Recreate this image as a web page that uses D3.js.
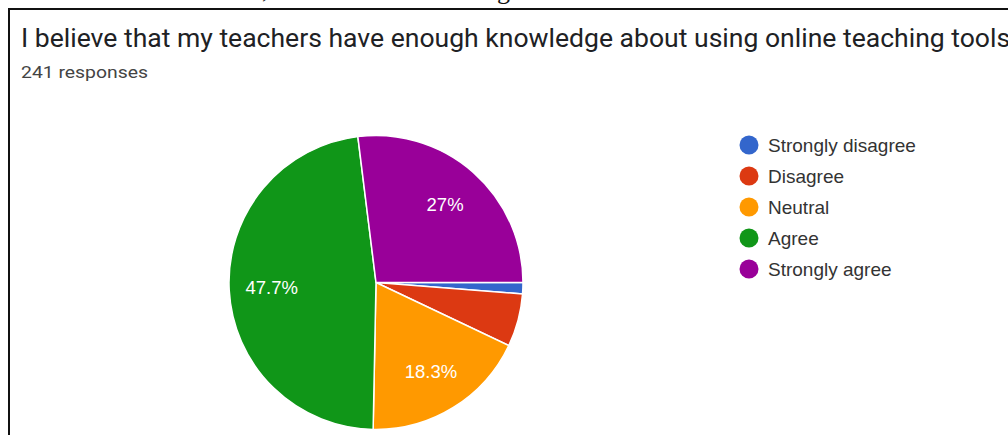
<!DOCTYPE html>
<html>
<head>
<meta charset="utf-8">
<script src="https://cdn.jsdelivr.net/npm/d3@7"></script>
<style>
  html, body { margin: 0; padding: 0; background: #fff; }
  svg { display: block; }
</style>
</head>
<body>
<svg id="chart" width="1008" height="435"></svg>
<script>
// Survey answers (241 responses)
const categories = ["Strongly disagree", "Disagree", "Neutral", "Agree", "Strongly agree"];
const counts = [3, 14, 44, 115, 65];
const colors = ["#3366cc", "#dc3912", "#ff9900", "#109618", "#990099"];
const title = "I believe that my teachers have enough knowledge about using online teaching tools";
const subtitle = "241 responses";

const svg = d3.select("#chart");
const W = 1008, H = 435;
const total = d3.sum(counts);
const sans = "Roboto, 'Noto Sans', sans-serif";
const arial = "'Liberation Sans', Arial, sans-serif";

// fragments of the preceding document line, cut off by the frame
svg.append("text").attr("x", 262).attr("y", -2)
  .attr("font-family", "Liberation Serif, Times New Roman, serif")
  .attr("font-size", 26).attr("fill", "#111").text(",");
svg.append("text").attr("x", 497).attr("y", -1)
  .attr("font-family", "Liberation Serif, Times New Roman, serif")
  .attr("font-size", 26).attr("fill", "#111").text("g");

// card frame
svg.append("line").attr("x1", 8).attr("x2", W).attr("y1", 9).attr("y2", 9)
  .attr("stroke", "#111").attr("stroke-width", 2);
svg.append("line").attr("x1", 9).attr("x2", 9).attr("y1", 8).attr("y2", H)
  .attr("stroke", "#111").attr("stroke-width", 2);

// title, sized to run across the card
const t = svg.append("text").attr("x", 21).attr("y", 47)
  .attr("font-family", sans)
  .attr("font-size", 26).attr("fill", "#202124").text(title);
const tw = t.node().getComputedTextLength();
t.attr("font-size", 26 * 990 / tw);

svg.append("text").attr("x", 21).attr("y", 78)
  .attr("font-family", sans)
  .attr("font-size", 17).attr("fill", "#444")
  .attr("textLength", 127).attr("lengthAdjust", "spacingAndGlyphs")
  .text(subtitle);

// pie
const cx = 376, cy = 282.5, R = 147;
const pie = d3.pie().sort(null).value(d => d)
  .startAngle(Math.PI / 2).endAngle(Math.PI / 2 + 2 * Math.PI);
const arcs = pie(counts);
const arc = d3.arc().innerRadius(0).outerRadius(R);
const labelArc = d3.arc().innerRadius(R * 0.71).outerRadius(R * 0.71);
const color = d3.scaleOrdinal().domain(categories).range(colors);

const g = svg.append("g").attr("transform", `translate(${cx},${cy})`);
g.selectAll("path").data(arcs).join("path")
  .attr("d", arc)
  .attr("fill", (d, i) => color(categories[i]))
  .attr("stroke", "#fff").attr("stroke-width", 1.5);

const pct = d3.format(".1~f");
g.selectAll("text.lbl").data(arcs.filter(d => d.value / total > 0.1)).join("text")
  .attr("class", "lbl")
  .attr("transform", d => `translate(${labelArc.centroid(d)})`)
  .attr("text-anchor", "middle").attr("dominant-baseline", "central")
  .attr("font-family", arial)
  .attr("font-size", 18.5).attr("fill", "#fff")
  .text(d => pct(d.value / total * 100) + "%");

// legend
const y = d3.scalePoint().domain(categories).range([145, 269]);
const lg = svg.append("g");
const items = lg.selectAll("g").data(categories).join("g")
  .attr("transform", d => `translate(749,${y(d)})`);
items.append("circle").attr("r", 9.5).attr("fill", d => color(d));
items.append("text").attr("x", 19).attr("dominant-baseline", "central")
  .attr("font-family", arial)
  .attr("font-size", 19).attr("fill", "#333").text(d => d);
</script>
</body>
</html>
